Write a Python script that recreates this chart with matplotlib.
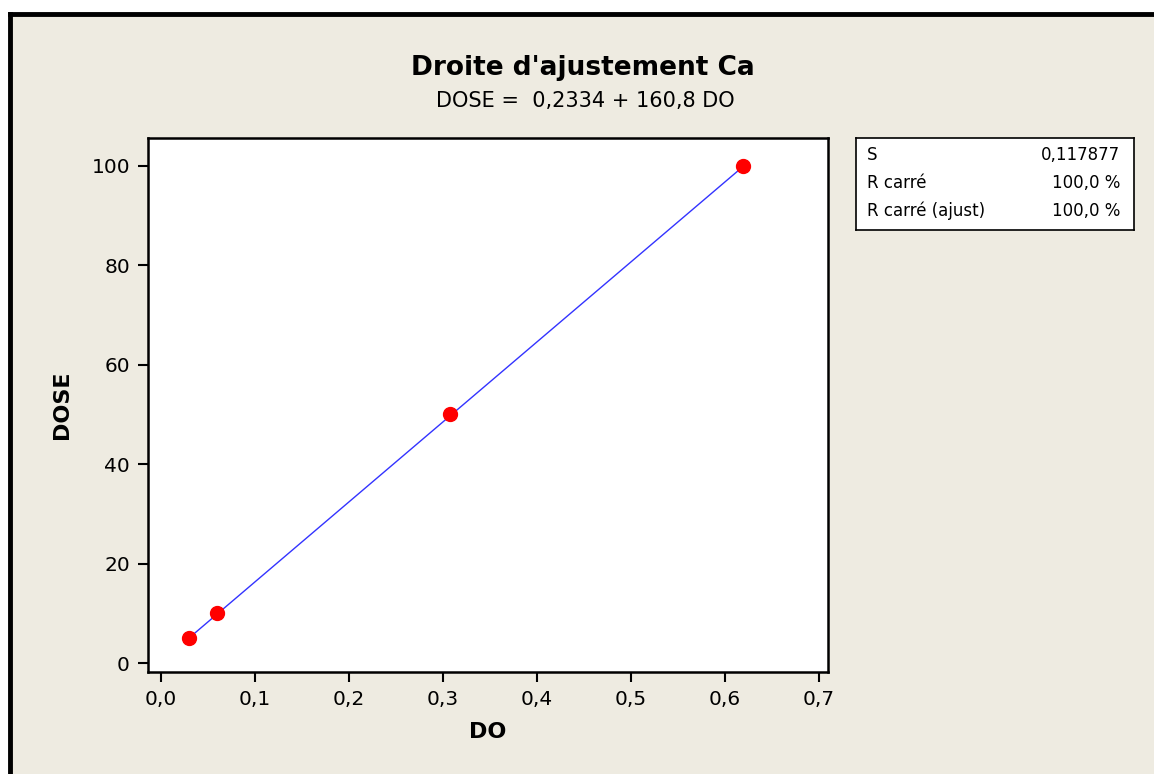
import numpy as np
import matplotlib.pyplot as plt
from matplotlib.patches import Rectangle
from matplotlib.lines import Line2D
from matplotlib.ticker import FuncFormatter

# étalonnage calcium : densité optique vs dose
do_vals = [0.030, 0.060, 0.308, 0.620]
dose_vals = [5, 10, 50, 100]

intercept = 0.2334
slope = 160.8

stat_names = ["S", "R carré", "R carré (ajust)"]
stat_values = ["0,117877", "100,0 %", "100,0 %"]

x_ticks = [0.0, 0.1, 0.2, 0.3, 0.4, 0.5, 0.6, 0.7]
y_ticks = [0, 20, 40, 60, 80, 100]

W, H = 1154, 774
bg = "#eeebe1"

fig = plt.figure(figsize=(W / 100, H / 100), dpi=100, facecolor="white")

# fond beige + bordure noire en haut et à gauche
fig.add_artist(Rectangle((10 / W, 0), 1, (H - 14) / H, transform=fig.transFigure,
                         facecolor=bg, edgecolor="none", zorder=-10))
fig.add_artist(Line2D([10 / W, 1], [(H - 14) / H] * 2, transform=fig.transFigure,
                      color="black", lw=3.5))
fig.add_artist(Line2D([10 / W, 10 / W], [0, (H - 14) / H], transform=fig.transFigure,
                      color="black", lw=3.5))

ax = fig.add_axes([148 / W, 1 - 672 / H, (828 - 148) / W, (672 - 138) / H])
ax.set_facecolor("white")

xs = np.array([min(do_vals), max(do_vals)])
ax.plot(xs, intercept + slope * xs, color="#3333ff", lw=1, zorder=2)
ax.plot(do_vals, dose_vals, "o", color="red", markersize=10, zorder=3)

ax.set_xlim(-0.0138, 0.710)
ax.set_ylim(-1.8, 105.6)
ax.set_xticks(x_ticks)
ax.set_yticks(y_ticks)
ax.xaxis.set_major_formatter(FuncFormatter(lambda v, p: f"{v:.1f}".replace(".", ",")))
ax.tick_params(direction="out", length=7, width=1.5, labelsize=14.5, pad=6)
for s in ax.spines.values():
    s.set_linewidth(1.8)

ax.set_xlabel("DO", fontsize=16, fontweight="bold", labelpad=9)
ax.set_ylabel("DOSE", fontsize=16, fontweight="bold", labelpad=14)

fig.text(583 / W, 1 - 68 / H, "Droite d'ajustement Ca", ha="center", va="center",
         fontsize=19, fontweight="bold")
fig.text(585 / W, 1 - 101 / H, "DOSE =  0,2334 + 160,8 DO", ha="center", va="center",
         fontsize=15)

# encadré des statistiques
box = fig.add_axes([856 / W, 1 - 230 / H, (1134 - 856) / W, (230 - 138) / H])
box.set_facecolor("white")
box.set_xticks([])
box.set_yticks([])
for s in box.spines.values():
    s.set_linewidth(1.2)
for i, (n, v) in enumerate(zip(stat_names, stat_values)):
    y = 0.81 - i * 0.3
    box.text(0.04, y, n, fontsize=12, va="center", ha="left", transform=box.transAxes)
    box.text(0.95, y, v, fontsize=12, va="center", ha="right", transform=box.transAxes)

fig.savefig("out.png", dpi=100, facecolor=fig.get_facecolor())
